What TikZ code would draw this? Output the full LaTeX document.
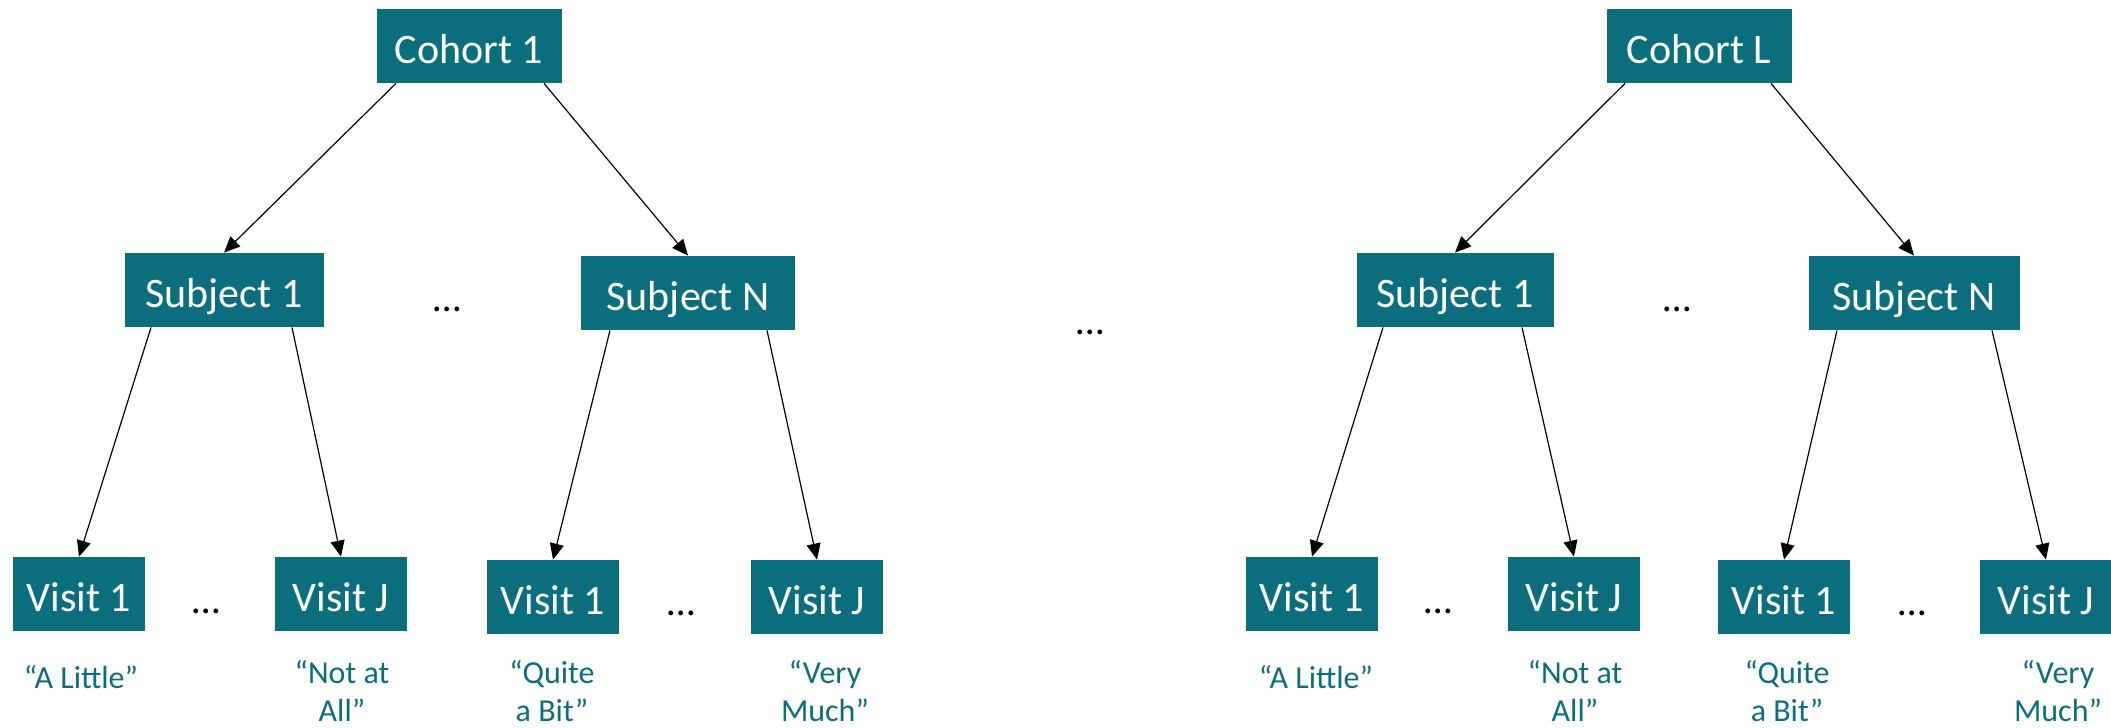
\documentclass[tikz,border=0pt]{standalone}
\usepackage{fontspec}
\setmainfont{Carlito}
\usetikzlibrary{arrows.meta}
\definecolor{tealbox}{RGB}{11,110,124}
\tikzset{
  box/.style={fill=tealbox, text=white, font=\fontsize{21}{25}\selectfont,
    minimum height=37pt, inner sep=0pt, text height=17pt, text depth=0pt},
  cohortbox/.style={box, minimum width=92.5pt},
  subjbox/.style={box, minimum width=#1},
  visitbox/.style={box, minimum width=66pt},
  answer/.style={text=tealbox, font=\fontsize{16}{19}\selectfont, align=center,
    anchor=north, inner sep=0pt},
  gap/.style={font=\fontsize{20}{24}\selectfont, anchor=base, inner sep=0pt},
  link/.style={-{Triangle[length=8pt,width=7pt]}, line width=0.6pt}
}
\begin{document}
\begin{tikzpicture}[x=0.5pt,y=-0.5pt]
\useasboundingbox (0,0) rectangle (2111,728);

% ---- left cohort ----
\node[cohortbox] (c1) at (469,46) {Cohort 1};
\node[subjbox=99.5pt] (s1) at (224,290) {Subject 1};
\node[subjbox=107pt] (sN) at (688,293) {Subject N};
\node[visitbox] (v11) at (79,594) {Visit 1};
\node[visitbox] (v1J) at (341,594) {Visit J};
\node[visitbox] (vN1) at (553,597) {Visit 1};
\node[visitbox] (vNJ) at (817,597) {Visit J};

\node[gap] (d1) at (447,311) {…};
\node[gap] (d2) at (206,613) {…};
\node[gap] (d3) at (681,615) {…};

\node[answer] (a11) at (81,665) {“A Little”};
\node[answer] (a1J) at (342,660) {“Not at\\All”};
\node[answer] (aN1) at (552,660) {“Quite\\a Bit”};
\node[answer] (aNJ) at (825,660) {“Very\\Much”};

\draw[link] ([xshift=-36.5pt]c1.south) -- (s1.north);
\draw[link] ([xshift=37.5pt]c1.south) -- (sN.north);
\draw[link] ([xshift=-36.5pt]s1.south) -- (v11.north);
\draw[link] ([xshift=34pt]s1.south) -- (v1J.north);
\draw[link] ([xshift=-39pt]sN.south) -- (vN1.north);
\draw[link] ([xshift=39.5pt]sN.south) -- (vNJ.north);

% ---- gap between cohorts ----
\node[gap] (dm) at (1090,334) {…};

% ---- right cohort ----
\node[cohortbox] (cL) at (1699,46) {Cohort L};
\node[subjbox=98.5pt] (s1R) at (1455,290) {Subject 1};
\node[subjbox=105.5pt] (sNR) at (1914,293) {Subject N};
\node[visitbox] (v11R) at (1312,594) {Visit 1};
\node[visitbox] (v1JR) at (1574,594) {Visit J};
\node[visitbox] (vN1R) at (1784,597) {Visit 1};
\node[visitbox] (vNJR) at (2046,597) {Visit J};

\node[gap] (d1R) at (1677,311) {…};
\node[gap] (d2R) at (1438,613) {…};
\node[gap] (d3R) at (1912,615) {…};

\node[answer] (a11R) at (1316,665) {“A Little”};
\node[answer] (a1JR) at (1575,660) {“Not at\\All”};
\node[answer] (aN1R) at (1787,660) {“Quite\\a Bit”};
\node[answer] (aNJR) at (2058,660) {“Very\\Much”};

\draw[link] ([xshift=-37pt]cL.south) -- (s1R.north);
\draw[link] ([xshift=36pt]cL.south) -- (sNR.north);
\draw[link] ([xshift=-36pt]s1R.south) -- (v11R.north);
\draw[link] ([xshift=33.5pt]s1R.south) -- (v1JR.north);
\draw[link] ([xshift=-38.5pt]sNR.south) -- (vN1R.north);
\draw[link] ([xshift=39pt]sNR.south) -- (vNJR.north);
\end{tikzpicture}
\end{document}
